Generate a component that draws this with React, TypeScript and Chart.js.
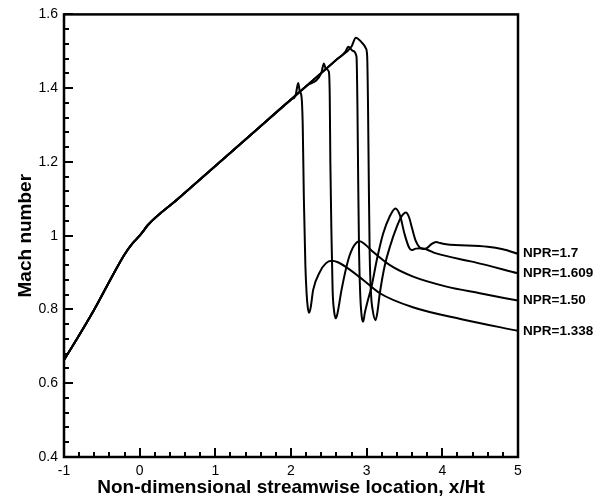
import React, { useEffect, useRef } from "react";
import { Chart, registerables } from "chart.js";

Chart.register(...registerables);

const FONT = "'Liberation Sans', Arial, Helvetica, sans-serif";

// Shared subsonic/supersonic ramp (identical for all NPRs)
const commonX = [-1, -0.8, -0.6, -0.4, -0.2, -0.1, 0, 0.05, 0.1, 0.5, 1, 1.5, 2];
const commonM = [0.663, 0.73, 0.8, 0.876, 0.949, 0.978, 1.0, 1.013, 1.027, 1.099, 1.189, 1.279, 1.369];

// NPR = 1.338
const npr1338X = [2.06, 2.095, 2.115, 2.14, 2.155, 2.17, 2.19, 2.206, 2.222, 2.24, 2.26, 2.293, 2.382, 2.46, 2.536, 2.62, 2.734, 2.954, 3.174, 3.61, 4.27, 5];
const npr1338M = [1.38, 1.414, 1.392, 1.375, 1.3, 1.1, 0.92, 0.844, 0.805, 0.791, 0.805, 0.853, 0.902, 0.925, 0.932, 0.928, 0.914, 0.88, 0.844, 0.806, 0.773, 0.742];

// NPR = 1.50
const npr150X = [2.2, 2.4, 2.435, 2.46, 2.5, 2.512, 2.52, 2.535, 2.55, 2.57, 2.593, 2.615, 2.668, 2.756, 2.83, 2.91, 2.98, 3.086, 3.307, 3.614, 4.055, 4.495, 5];
const npr150M = [1.405, 1.441, 1.467, 1.452, 1.445, 1.38, 1.2, 1.0, 0.853, 0.795, 0.776, 0.79, 0.853, 0.934, 0.972, 0.985, 0.976, 0.956, 0.92, 0.889, 0.862, 0.844, 0.824];

// NPR = 1.609
const npr1609X = [2.2, 2.4, 2.6, 2.72, 2.756, 2.82, 2.866, 2.878, 2.888, 2.9, 2.915, 2.935, 2.954, 2.975, 3.01, 3.064, 3.14, 3.218, 3.3, 3.38, 3.44, 3.5, 3.56, 3.593, 3.65, 3.72, 3.8, 3.92, 4.41, 5];
const npr1609M = [1.405, 1.441, 1.477, 1.499, 1.512, 1.501, 1.485, 1.35, 1.15, 0.95, 0.84, 0.78, 0.767, 0.79, 0.82, 0.862, 0.94, 1.006, 1.05, 1.074, 1.055, 1.005, 0.968, 0.961, 0.965, 0.966, 0.962, 0.952, 0.929, 0.898];

// NPR = 1.7
const npr17X = [2.2, 2.4, 2.6, 2.8, 2.857, 2.93, 2.99, 3.007, 3.018, 3.028, 3.04, 3.058, 3.078, 3.117, 3.14, 3.174, 3.24, 3.307, 3.4, 3.46, 3.518, 3.56, 3.6, 3.65, 3.7, 3.75, 3.8, 3.86, 3.92, 3.97, 4.05, 4.6, 4.8, 5];
const npr17M = [1.405, 1.441, 1.477, 1.513, 1.537, 1.525, 1.508, 1.485, 1.35, 1.15, 0.95, 0.84, 0.8, 0.771, 0.79, 0.844, 0.92, 0.97, 1.025, 1.052, 1.063, 1.05, 1.02, 0.985, 0.968, 0.964, 0.967, 0.978, 0.983, 0.98, 0.977, 0.97, 0.963, 0.951];

const seriesLabels = ["NPR=1.338", "NPR=1.50", "NPR=1.609", "NPR=1.7"];
const seriesX = [npr1338X, npr150X, npr1609X, npr17X];
const seriesM = [npr1338M, npr150M, npr1609M, npr17M];

const xTitle = "Non-dimensional streamwise location, x/Ht";
const yTitle = "Mach number";

function buildPoints(tx: number[], tm: number[]) {
  const pts = commonX.map((x, i) => ({ x, y: commonM[i] }));
  tx.forEach((x, i) => pts.push({ x, y: tm[i] }));
  return pts;
}

const framePlugin = {
  id: "frame",
  afterDraw(chart: any) {
    const ctx = chart.ctx;
    const a = chart.chartArea;
    const xs = chart.scales.x;
    const ys = chart.scales.y;
    ctx.save();
    ctx.fillStyle = "#000";
    // inward ticks on the left axis: major every 0.2, minor every 0.04
    for (let k = 0; k <= 30; k++) {
      const v = 0.4 + k * 0.04;
      const y = Math.round(ys.getPixelForValue(v));
      const len = k % 5 === 0 ? 9 : 5;
      ctx.fillRect(a.left, y - 1, len, 2);
    }
    // inward ticks on the bottom axis: major every 1, minor every 0.2
    for (let k = 0; k <= 30; k++) {
      const v = -1 + k * 0.2;
      const x = Math.round(xs.getPixelForValue(v));
      const len = k % 5 === 0 ? 9 : 5;
      ctx.fillRect(x - 1, a.bottom - len, 2, len);
    }
    ctx.strokeStyle = "#000";
    ctx.lineWidth = 2.5;
    ctx.strokeRect(a.left, a.top, a.right - a.left, a.bottom - a.top);
    // end-of-line labels
    ctx.font = `bold 13.5px ${FONT}`;
    ctx.textAlign = "left";
    ctx.textBaseline = "middle";
    chart.data.datasets.forEach((ds: any) => {
      const last = ds.data[ds.data.length - 1];
      const y = ys.getPixelForValue(last.y);
      ctx.fillText(ds.label, a.right + 5, y);
    });
    ctx.restore();
  },
};

export default function App() {
  const ref = useRef<HTMLCanvasElement>(null);
  useEffect(() => {
    const target = { left: 64, top: 13, right: 518, bottom: 457 };
    const pad = { left: 0, top: 13, right: 82, bottom: 0 };
    const datasets = seriesLabels.map((label, i) => ({
      label,
      data: buildPoints(seriesX[i], seriesM[i]),
      showLine: true,
      borderColor: "#000",
      backgroundColor: "#000",
      borderWidth: 2,
      pointRadius: 0,
      cubicInterpolationMode: "monotone" as const,
    }));
    const chart = new Chart(ref.current!, {
      type: "scatter",
      data: { datasets },
      options: {
        responsive: false,
        animation: false,
        layout: { padding: { ...pad } },
        plugins: { legend: { display: false }, tooltip: { enabled: false } },
        scales: {
          x: {
            type: "linear",
            min: -1,
            max: 5,
            afterFit: (s: any) => {
              s.height = 44;
            },
            grid: { display: false, drawTicks: false },
            border: { display: false },
            ticks: {
              stepSize: 1,
              padding: 6,
              color: "#000",
              font: { family: FONT, size: 14 },
              maxRotation: 0,
              autoSkip: false,
            },
            title: {
              display: true,
              text: xTitle,
              color: "#000",
              font: { family: FONT, size: 19, weight: "bold" },
              padding: { top: 0, bottom: 2 },
            },
          },
          y: {
            type: "linear",
            min: 0.4,
            max: 1.6,
            afterFit: (s: any) => {
              s.width = 64;
            },
            grid: { display: false, drawTicks: false },
            border: { display: false },
            ticks: {
              stepSize: 0.2,
              padding: 6,
              color: "#000",
              font: { family: FONT, size: 14 },
              callback: (v: any) => String(Math.round(Number(v) * 10) / 10),
            },
            title: {
              display: true,
              text: yTitle,
              color: "#000",
              font: { family: FONT, size: 19, weight: "bold" },
              padding: { top: 14, bottom: 0 },
            },
          },
        },
      },
      plugins: [framePlugin],
    });
    for (let i = 0; i < 3; i++) {
      const a = chart.chartArea;
      pad.left += target.left - a.left;
      pad.top += target.top - a.top;
      pad.right += a.right - target.right;
      pad.bottom += a.bottom - target.bottom;
      (chart.options as any).layout.padding = { ...pad };
      chart.update();
    }
    return () => chart.destroy();
  }, []);
  return (
    <div style={{ position: "absolute", left: 0, top: 0, width: 600, height: 501, background: "#fff" }}>
      <canvas ref={ref} width={600} height={501} style={{ display: "block" }} />
    </div>
  );
}
